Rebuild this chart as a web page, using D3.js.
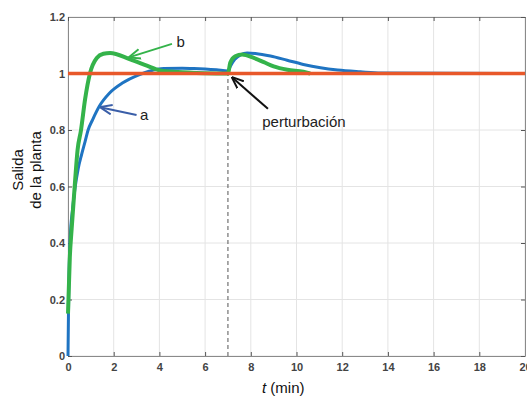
<!DOCTYPE html>
<html>
<head>
<meta charset="utf-8">
<script src="https://cdn.jsdelivr.net/npm/d3@7"></script>
<style>
  body { margin: 0; background: #fff; }
  #chart { width: 527px; height: 396px; }
</style>
</head>
<body>
<div id="chart"></div>
<script>
// curve a (blue)
const tA = [0, 0.03, 0.1, 0.2, 0.3, 0.45, 0.6, 0.75, 0.88, 1.08, 1.37, 1.81, 2.4, 3.13, 3.55, 4.2, 5.0, 5.5, 6.0, 6.5, 7.0,
  7.1, 7.3, 7.55, 7.84, 8.2, 8.86, 9.59, 10.3, 11.05, 11.8, 12.8, 13.7, 20];
const yA = [0, 0.22, 0.42, 0.52, 0.59, 0.665, 0.715, 0.76, 0.80, 0.837, 0.884, 0.93, 0.967, 0.996, 1.008, 1.018, 1.019, 1.018, 1.016, 1.013, 1.009,
  1.025, 1.05, 1.066, 1.073, 1.071, 1.062, 1.047, 1.032, 1.02, 1.012, 1.006, 1.002, 1.0];

// curve b (green)
const tB = [0, 0.08, 0.16, 0.31, 0.42, 0.57, 0.75, 0.96, 1.26, 1.55, 1.84, 2.72, 3.45, 4.03, 4.8, 6.0, 7.0,
  7.1, 7.32, 7.62, 8.13, 8.57, 9.0, 9.6, 10.3, 10.6];
const yB = [0.15, 0.35, 0.45, 0.62, 0.73, 0.80, 0.91, 1.0, 1.055, 1.07, 1.073, 1.05, 1.028, 1.011, 1.005, 1.001, 1.0,
  1.038, 1.061, 1.067, 1.055, 1.04, 1.025, 1.013, 1.006, 1.0];

const setpoint = 1;
const tDist = 7;
const xTicks = [0, 2, 4, 6, 8, 10, 12, 14, 16, 18, 20];
const yTicks = [0, 0.2, 0.4, 0.6, 0.8, 1, 1.2];

const width = 527, height = 396;
const margin = { top: 17, left: 68, right: 2, bottom: 40 };

const svg = d3.select("#chart").append("svg")
  .attr("width", width)
  .attr("height", height);

const x = d3.scaleLinear().domain([0, 20]).range([margin.left, width - margin.right]);
const y = d3.scaleLinear().domain([0, 1.2]).range([height - margin.bottom, margin.top]);

// grid
svg.append("g").selectAll("line").data(xTicks).join("line")
  .attr("x1", d => x(d)).attr("x2", d => x(d))
  .attr("y1", y(0)).attr("y2", y(1.2))
  .attr("stroke", "#e4e4e4").attr("stroke-width", 1);
svg.append("g").selectAll("line").data(yTicks).join("line")
  .attr("x1", x(0)).attr("x2", x(20))
  .attr("y1", d => y(d)).attr("y2", d => y(d))
  .attr("stroke", "#e4e4e4").attr("stroke-width", 1);

// axes (inner ticks, box)
const tickFont = "bold 11px 'Liberation Sans Narrow', 'Arial Narrow', sans-serif";
svg.append("g").attr("transform", `translate(0,${y(0)})`)
  .call(d3.axisBottom(x).tickValues(xTicks).tickSizeInner(-4).tickSizeOuter(0).tickPadding(7));
svg.append("g").attr("transform", `translate(${x(0)},0)`)
  .call(d3.axisLeft(y).tickValues(yTicks).tickSizeInner(-4).tickSizeOuter(0).tickPadding(3).tickFormat(d3.format("~g")));
svg.append("g").attr("transform", `translate(0,${y(1.2)})`)
  .call(d3.axisTop(x).tickValues(xTicks).tickSizeInner(-4).tickSizeOuter(0).tickFormat(""));
svg.append("g").attr("transform", `translate(${x(20)},0)`)
  .call(d3.axisRight(y).tickValues(yTicks).tickSizeInner(-4).tickSizeOuter(0).tickFormat(""));
svg.selectAll(".domain").attr("stroke", "#8a8a8a");
svg.selectAll(".tick line").attr("stroke", "#555");
svg.selectAll(".tick text").style("font", tickFont).attr("fill", "#444");

// disturbance line
svg.append("line")
  .attr("x1", x(tDist)).attr("x2", x(tDist))
  .attr("y1", y(0)).attr("y2", y(setpoint))
  .attr("stroke", "#555").attr("stroke-width", 1)
  .attr("stroke-dasharray", "4,3");

const line = d3.line().x(d => x(d[0])).y(d => y(d[1])).curve(d3.curveMonotoneX);

svg.append("path")
  .datum(tA.map((t, i) => [t, yA[i]]))
  .attr("d", line)
  .attr("fill", "none").attr("stroke", "#1f74c2").attr("stroke-width", 3);

svg.append("path")
  .datum(tB.map((t, i) => [t, yB[i]]))
  .attr("d", line)
  .attr("fill", "none").attr("stroke", "#34b34a").attr("stroke-width", 4);

svg.append("line")
  .attr("x1", x(0)).attr("x2", x(20))
  .attr("y1", y(setpoint)).attr("y2", y(setpoint))
  .attr("stroke", "#e8582a").attr("stroke-width", 3.5);

// annotations
const defs = svg.append("defs");
function marker(id, color) {
  defs.append("marker").attr("id", id)
    .attr("viewBox", "0 0 10 10").attr("refX", 9).attr("refY", 5)
    .attr("markerWidth", 6).attr("markerHeight", 6).attr("orient", "auto")
    .append("path").attr("d", "M0,1 L10,5 L0,9").attr("fill", "none")
    .attr("stroke", color).attr("stroke-width", 1.6);
}
marker("arrG", "#34b34a");
marker("arrA", "#3a5ea8");
marker("arrK", "#111");

const notes = [
  { label: "b", from: [4.55, 1.105], to: [2.7, 1.058], tx: 4.75, ty: 1.095, color: "#34b34a", m: "arrG" },
  { label: "a", from: [3.0, 0.853], to: [1.45, 0.88], tx: 3.15, ty: 0.835, color: "#3a5ea8", m: "arrA" },
  { label: "perturbación", from: [8.75, 0.875], to: [7.2, 0.985], tx: 8.5, ty: 0.81, color: "#111", m: "arrK" }
];
svg.append("g").selectAll("line").data(notes).join("line")
  .attr("x1", d => x(d.from[0])).attr("y1", d => y(d.from[1]))
  .attr("x2", d => x(d.to[0])).attr("y2", d => y(d.to[1]))
  .attr("stroke", d => d.color).attr("stroke-width", 2)
  .attr("marker-end", d => `url(#${d.m})`);
svg.append("g").selectAll("text").data(notes).join("text")
  .attr("x", d => x(d.tx)).attr("y", d => y(d.ty))
  .attr("fill", "#222")
  .style("font", "15px 'Liberation Sans', Arial, sans-serif")
  .text(d => d.label);

// axis labels
const xl = svg.append("text")
  .attr("x", 262).attr("y", 393)
  .style("font", "15px 'Liberation Sans', Arial, sans-serif").attr("fill", "#111");
xl.append("tspan").style("font-style", "italic").text("t");
xl.append("tspan").text(" (min)");

const yl = svg.append("text")
  .attr("transform", "translate(23,170) rotate(-90)")
  .attr("text-anchor", "middle")
  .style("font", "15px 'Liberation Sans', Arial, sans-serif").attr("fill", "#111");
yl.append("tspan").attr("x", 0).attr("dy", 0).text("Salida");
yl.append("tspan").attr("x", 0).attr("dy", 18).text("de la planta");
</script>
</body>
</html>
